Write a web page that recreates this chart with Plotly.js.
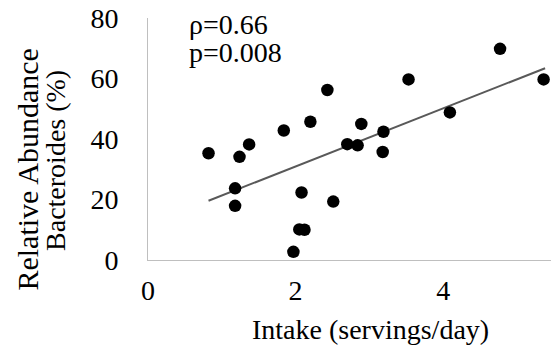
<!DOCTYPE html>
<html>
<head>
<meta charset="utf-8">
<script src="https://cdn.plot.ly/plotly-3.0.1.min.js"></script>
<style>html,body{margin:0;padding:0;background:#fff;}#chart{width:551px;height:350px;}</style>
</head>
<body>
<div id="chart"></div>
<script>
// Data
const intake = [0.82, 1.18, 1.18, 1.24, 1.37, 1.84, 1.97, 2.08, 2.05, 2.12, 2.20, 2.43, 2.51, 2.70, 2.84, 2.89, 3.19, 3.18, 3.53, 4.09, 4.77, 5.36];
const abundance = [35.3, 23.7, 17.9, 34.1, 38.2, 42.8, 2.7, 22.3, 10.1, 10.0, 45.7, 56.2, 19.3, 38.3, 37.9, 45.0, 42.4, 35.7, 59.7, 48.8, 69.8, 59.7];
const trendX = [0.82, 5.38];
const trendY = [19.6, 63.4];
const xTicks = [0, 2, 4];
const yTicks = [0, 20, 40, 60, 80];
const statLines = ["ρ=0.66", "p=0.008"];
const xTitle = "Intake (servings/day)";
const yTitleLines = ["Relative Abundance", "Bacteroides (%)"];

const FONT = "Liberation Serif";
const fs = 28;

const traces = [
  {x: trendX, y: trendY, mode: "lines", line: {color: "#595959", width: 2}, hoverinfo: "skip"},
  {x: intake, y: abundance, mode: "markers", marker: {color: "#000", size: 12.5}}
];

const af = {family: FONT, size: fs, color: "#000"};

const layout = {
  width: 551, height: 350,
  margin: {l: 148, r: 0, t: 18, b: 90},
  showlegend: false,
  paper_bgcolor: "#fff", plot_bgcolor: "#fff",
  xaxis: {range: [0, 5.46], tickvals: xTicks, ticktext: xTicks.map(String), showgrid: false, zeroline: false,
          showline: true, linecolor: "#bfbfbf", linewidth: 1, ticks: "", ticklabelstandoff: 5,
          tickfont: {family: FONT, size: fs, color: "#000"}},
  yaxis: {range: [0, 80], tickvals: yTicks, ticktext: yTicks.map(String), showgrid: false, zeroline: false,
          showline: true, linecolor: "#bfbfbf", linewidth: 1, ticks: "", ticklabelstandoff: 23,
          tickfont: {family: FONT, size: fs, color: "#000"}},
  annotations: [
    {text: statLines[0], xref: "paper", yref: "paper", x: 0.097, y: 0.975, xanchor: "left", yanchor: "middle", showarrow: false, font: af},
    {text: statLines[1], xref: "paper", yref: "paper", x: 0.097, y: 0.857, xanchor: "left", yanchor: "middle", showarrow: false, font: af},
    {text: xTitle, xref: "paper", yref: "paper", x: 0.551, y: -0.289, xanchor: "center", yanchor: "middle", showarrow: false, font: af},
    {text: yTitleLines[0], xref: "paper", yref: "paper", x: -0.300, y: 0.374, xanchor: "center", yanchor: "middle", textangle: -90, showarrow: false, font: {family: FONT, size: 30, color: "#000"}},
    {text: yTitleLines[1], xref: "paper", yref: "paper", x: -0.231, y: 0.413, xanchor: "center", yanchor: "middle", textangle: -90, showarrow: false, font: af}
  ]
};

Plotly.newPlot("chart", traces, layout, {staticPlot: true, displayModeBar: false});
</script>
</body>
</html>
